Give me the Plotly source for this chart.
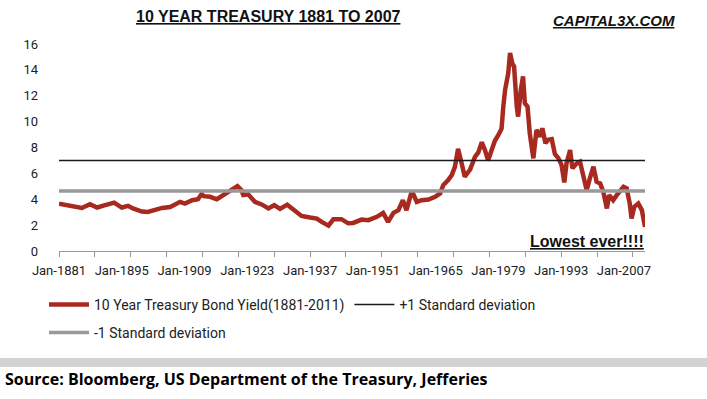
import plotly.graph_objects as go

# ---- data ----
years = [1881.0, 1882.6, 1883.9, 1886.1, 1887.9, 1889.5, 1891.3, 1893.3, 1895.0, 1896.4,
         1897.5, 1899.5, 1900.8, 1902.4, 1904.0, 1905.8, 1908.0, 1909.1, 1910.7, 1912.0,
         1912.8, 1913.3, 1914.7, 1916.2, 1917.6, 1918.8, 1919.9, 1920.8, 1921.7, 1922.1,
         1923.2, 1924.7, 1926.2, 1927.7, 1929.0, 1930.3, 1931.9, 1933.3, 1935.1, 1937.0,
         1938.5, 1939.6, 1941.1, 1942.2, 1944.0, 1945.5, 1946.6, 1948.5, 1950.0, 1951.9,
         1953.3, 1954.4, 1955.6, 1956.7, 1957.7, 1958.5, 1959.7, 1960.8, 1961.9, 1963.4,
         1964.9, 1966.0, 1966.7, 1967.8, 1968.6, 1969.3, 1970.0, 1970.8, 1971.5, 1972.7,
         1973.8, 1974.5, 1975.3, 1976.0, 1976.7, 1977.5, 1978.2, 1979.0, 1979.7, 1980.1,
         1980.5, 1981.2, 1981.6, 1982.1, 1982.5, 1983.1, 1983.4, 1984.0, 1984.5, 1984.9,
         1985.5, 1986.0, 1986.8, 1987.5, 1988.3, 1988.8, 1989.5, 1990.1, 1990.9, 1991.6,
         1992.4, 1993.1, 1993.7, 1994.2, 1995.0, 1995.5, 1996.5, 1997.2, 1997.9, 1998.7,
         1999.4, 2000.2, 2000.9, 2001.7, 2002.4, 2003.2, 2003.7, 2004.6, 2005.4, 2006.1,
         2006.9, 2007.6, 2008.3, 2008.7, 2009.3, 2010.2, 2011.0, 2011.7]
yields = [3.65, 3.56, 3.54, 3.33, 3.62, 3.36, 3.54, 3.74, 3.36, 3.49,
          3.29, 3.05, 3.02, 3.18, 3.33, 3.40, 3.80, 3.67, 3.92, 4.00,
          4.40, 4.24, 4.19, 4.00, 4.32, 4.53, 4.84, 5.02, 4.70, 4.32,
          4.38, 3.80, 3.60, 3.29, 3.54, 3.25, 3.58, 3.16, 2.71, 2.59,
          2.51, 2.25, 1.96, 2.45, 2.46, 2.14, 2.17, 2.43, 2.38, 2.64,
          2.95, 2.25, 2.95, 3.16, 3.93, 3.16, 4.65, 3.80, 3.93, 3.98,
          4.19, 4.45, 5.09, 5.48, 5.87, 6.51, 7.90, 6.78, 5.74, 6.30,
          7.29, 7.60, 8.40, 7.80, 7.00, 7.80, 8.50, 8.97, 9.45, 11.16,
          12.46, 13.75, 15.30, 14.50, 14.26, 11.16, 10.39, 12.46, 13.49, 11.43,
          11.16, 9.10, 7.16, 9.36, 8.84, 9.49, 8.33, 8.60, 8.65, 7.50,
          7.16, 6.64, 5.30, 6.78, 7.80, 6.39, 6.78, 6.90, 6.00, 4.70,
          5.61, 6.51, 5.35, 5.22, 4.57, 3.29, 4.32, 3.93, 4.32, 4.57,
          4.96, 4.84, 3.67, 2.51, 3.41, 3.67, 3.16, 1.86]

plus_sd = 7.0
minus_sd = 4.63
x_start, x_end = 1881.0, 2011.7

label_years = [1881, 1895, 1909, 1923, 1937, 1951, 1965, 1979, 1993, 2007]
tick_labels = ["Jan-%d" % y for y in label_years]
y_ticks = [0, 2, 4, 6, 8, 10, 12, 14, 16]

RED = "#A8291F"

fig = go.Figure()
fig.add_trace(go.Scatter(x=years, y=yields, mode="lines",
                         name="10 Year Treasury Bond Yield(1881-2011)",
                         line=dict(color=RED, width=4.5), legend="legend"))
fig.add_trace(go.Scatter(x=[x_start, x_end], y=[plus_sd, plus_sd], mode="lines",
                         name="+1 Standard deviation",
                         line=dict(color="#1a1a1a", width=1.5), legend="legend"))
fig.add_trace(go.Scatter(x=[x_start, x_end], y=[minus_sd, minus_sd], mode="lines",
                         name="-1 Standard deviation",
                         line=dict(color="#999999", width=3.5), legend="legend2"))

W, H = 707, 399
L, R, T, B = 59, 62, 44, 148
pw, ph = W - L - R, H - T - B

def px_x(x):
    return (x - L) / pw

def px_y(y):
    return (H - B - y) / ph

legend_font = dict(family="Roboto, Open Sans, sans-serif", size=14, color="#222222")

fig.update_layout(
    width=W, height=H,
    margin=dict(l=L, r=R, t=T, b=B, autoexpand=False),
    paper_bgcolor="white", plot_bgcolor="white",
    showlegend=True,
    legend=dict(orientation="h", x=px_x(44), xanchor="left", y=px_y(305), yanchor="middle",
                font=legend_font, itemwidth=40, bgcolor="rgba(0,0,0,0)", tracegroupgap=0),
    legend2=dict(orientation="h", x=px_x(44), xanchor="left", y=px_y(333), yanchor="middle",
                 font=legend_font, itemwidth=40, bgcolor="rgba(0,0,0,0)"),
    xaxis=dict(range=[x_start, x_end], tickvals=label_years, ticktext=tick_labels,
               ticks="", showgrid=False, zeroline=False, automargin=False,
               showline=True, linecolor="#999999", linewidth=1,
               tickfont=dict(family="Roboto, Open Sans, sans-serif", size=13, color="#222222"),
               ticklabelstandoff=7,
               minor=dict(ticks="outside", ticklen=5, tickcolor="#999999", tickwidth=1,
                          dtick=8, tick0=1881, showgrid=False)),
    yaxis=dict(range=[0, 16], tickvals=y_ticks, showgrid=False, zeroline=False,
               showline=False, ticks="", automargin=False,
               tickfont=dict(family="Roboto, Open Sans, sans-serif", size=13, color="#222222"),
               ticklabelstandoff=20),
    shapes=[dict(type="rect", xref="paper", yref="paper",
                 x0=px_x(0), x1=px_x(W), y0=px_y(367), y1=px_y(358),
                 fillcolor="#d2d2d2", line=dict(width=0), layer="below")],
    annotations=[
        dict(text="<b><u>10 YEAR TREASURY 1881 TO 2007</u></b>", xref="paper", yref="paper",
             x=px_x(268.5), y=px_y(16), xanchor="center", yanchor="middle", showarrow=False,
             font=dict(family="Liberation Sans, Arial, sans-serif", size=16, color="#111111")),
        dict(text="<b><i><u>CAPITAL3X.COM</u></i></b>", xref="paper", yref="paper",
             x=px_x(614), y=px_y(21), xanchor="center", yanchor="middle", showarrow=False,
             font=dict(family="Liberation Sans, Arial, sans-serif", size=15, color="#111111")),
        dict(text="<b><u>Lowest ever!!!!</u></b>", xref="paper", yref="paper",
             x=px_x(586.5), y=px_y(241), xanchor="center", yanchor="middle", showarrow=False,
             font=dict(family="Liberation Sans, Arial, sans-serif", size=16, color="#111111")),
        dict(text="Source: Bloomberg, US Department of the Treasury, Jefferies",
             xref="paper", yref="paper", x=px_x(3), y=px_y(379),
             xanchor="left", yanchor="middle", showarrow=False,
             font=dict(family="Open Sans, Roboto, sans-serif", size=16, color="#000000",
                       weight=700)),
    ],
)

fig.write_html("out.html",
               config={"displayModeBar": False},
               post_script="document.body.style.margin='0px';document.body.style.overflow='hidden';")
